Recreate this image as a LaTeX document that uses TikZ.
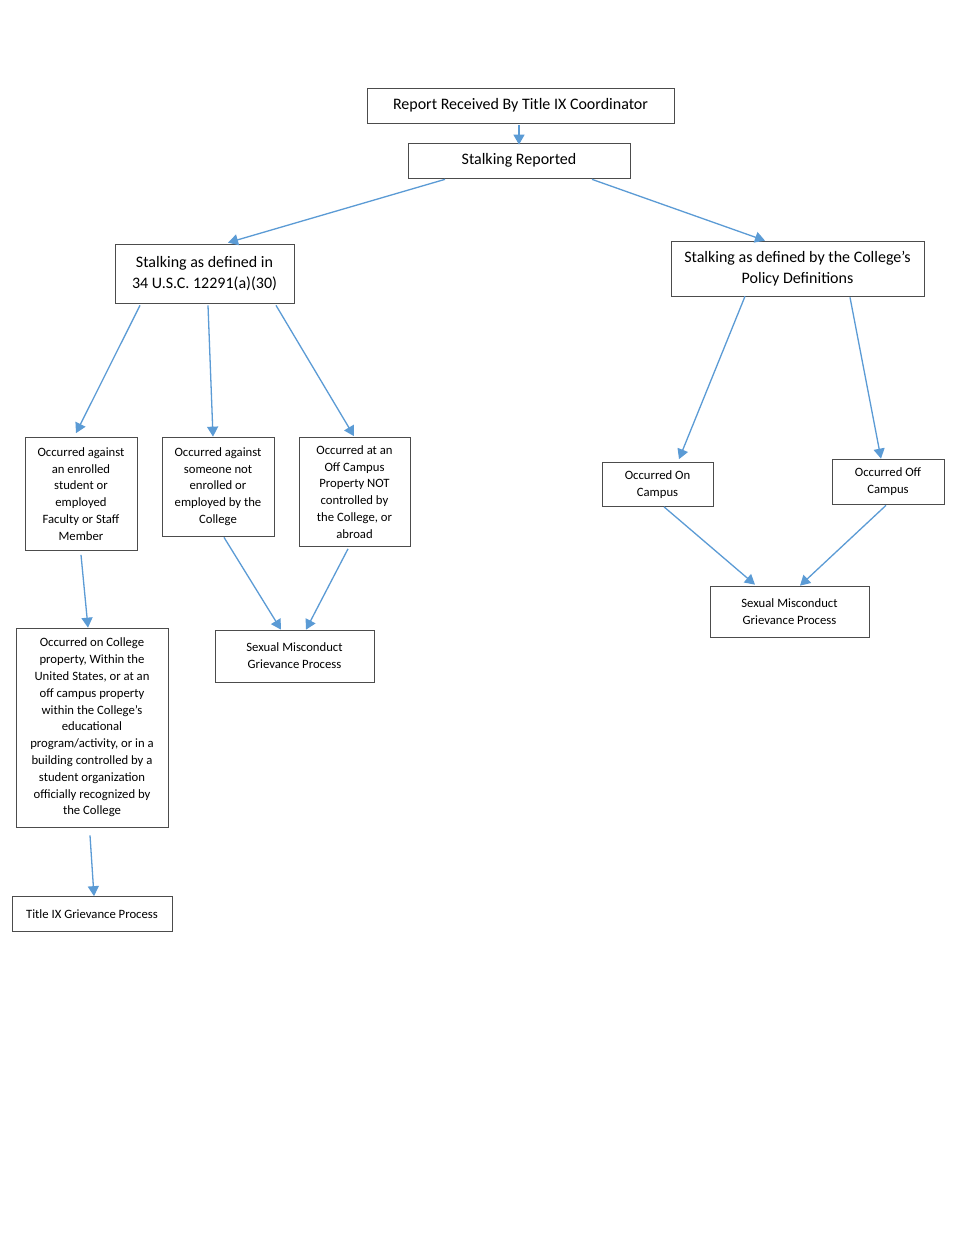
\documentclass[tikz,border=0pt]{standalone}
\usepackage{fontspec}
\setmainfont{Carlito}
\usetikzlibrary{arrows.meta,calc}
\definecolor{arrblue}{RGB}{91,155,213}
\begin{document}
\begin{tikzpicture}[x=1pt,y=-1pt,
  box/.style={draw=black!70, line width=0.7pt, inner sep=0pt, align=center},
  big/.style={box, font=\fontsize{16}{21}\selectfont},
  small/.style={box, font=\fontsize{12.7}{16.8}\selectfont},
  arr/.style={draw=arrblue, line width=1.3pt, -{Triangle[width=11pt,length=10pt]}}]
\fill[white] (0,0) rectangle (974,1260);
\useasboundingbox (0,0) rectangle (974,1260);

\node[big, minimum width=307pt, minimum height=35pt] (rep) at (520.5,105.5) {Report Received By Title IX Coordinator};
\node[big, minimum width=222pt, minimum height=35pt] (stk) at (519,160.5) {Stalking Reported};
\node[big, minimum width=179pt, minimum height=59pt] (fed) at (204.5,273.5) {Stalking as defined in\\34 U.S.C. 12291(a)(30)};
\node[big, minimum width=253pt, minimum height=55pt] (col) at (797.5,268.5) {Stalking as defined by the College’s\\Policy Definitions};

\node[small, minimum width=112pt, minimum height=113pt] (a1) at (81,494) {Occurred against\\an enrolled\\student or\\employed\\Faculty or Staff\\Member};
\node[small, minimum width=112pt, minimum height=99pt] (a2) at (218,486.5) {Occurred against\\someone not\\enrolled or\\employed by the\\College};
\node[small, minimum width=111pt, minimum height=109pt] (a3) at (354.5,492) {Occurred at an\\Off Campus\\Property NOT\\controlled by\\the College, or\\abroad};

\node[small, minimum width=111pt, minimum height=44pt] (on) at (657.5,484.5) {Occurred On\\Campus};
\node[small, minimum width=112pt, minimum height=45pt] (off) at (888,481.5) {Occurred Off\\Campus};
\node[small, minimum width=159pt, minimum height=51pt] (smr) at (789.5,611.5) {Sexual Misconduct\\Grievance Process};
\node[small, minimum width=159pt, minimum height=52pt] (sml) at (294.5,656) {Sexual Misconduct\\Grievance Process};

\node[small, minimum width=152pt, minimum height=199pt] (ocp) at (92,727.5) {Occurred on College\\property, Within the\\United States, or at an\\off campus property\\within the College’s\\educational\\program/activity, or in a\\building controlled by a\\student organization\\officially recognized by\\the College};
\node[small, minimum width=160pt, minimum height=35pt] (t9) at (92,914) {Title IX Grievance Process};

\draw[arr] ($(rep.south)+(-1.5,2)$) -- ($(stk.north)+(0,2)$);
\draw[arr] ($(stk.south)+(-74,1)$) -- ($(fed.north)+(23.5,-1)$);
\draw[arr] ($(stk.south)+(73,1)$) -- ($(col.north)+(-32.5,0)$);
\draw[arr] ($(fed.south)+(-64.5,2)$) -- ($(a1.north)+(-5,-4)$);
\draw[arr] ($(fed.south)+(3.5,2)$) -- ($(a2.north)+(-5,0)$);
\draw[arr] ($(fed.south)+(71.5,2)$) -- ($(a3.north)+(-0.5,-1)$);
\draw[arr] ($(col.south)+(-52.5,0)$) -- ($(on.north)+(21.5,-3)$);
\draw[arr] ($(col.south)+(52.5,1)$) -- ($(off.north)+(-7,0)$);
\draw[arr] ($(a1.south)+(0,4)$) -- ($(ocp.north)+(-4,0)$);
\draw[arr] ($(ocp.south)+(-2,8)$) -- ($(t9.north)+(2,0)$);
\draw[arr] ($(a2.south)+(6,1)$) -- ($(sml.north)+(-13.5,0)$);
\draw[arr] ($(a3.south)+(-6.5,2)$) -- ($(sml.north)+(11.5,0)$);
\draw[arr] ($(on.south)+(6.5,0)$) -- ($(smr.north)+(-34.5,-1)$);
\draw[arr] ($(off.south)+(-2,1)$) -- ($(smr.north)+(10.5,0)$);
\end{tikzpicture}
\end{document}
